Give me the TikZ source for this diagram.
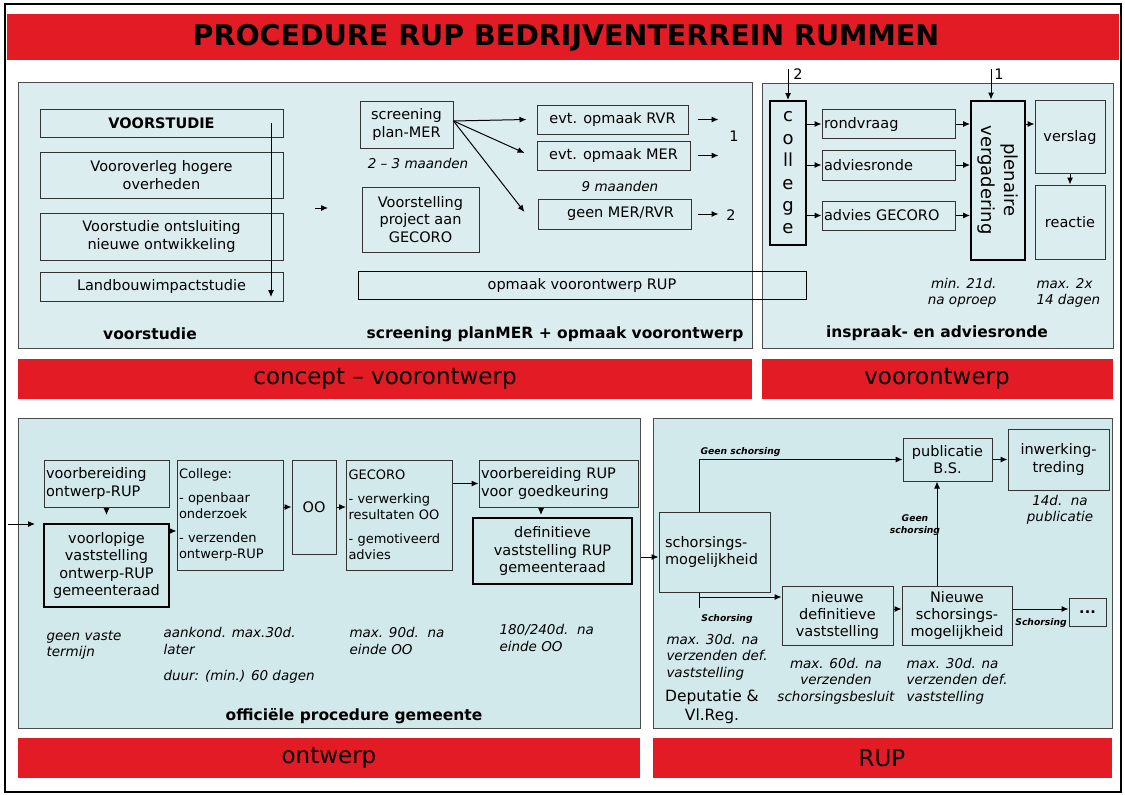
\documentclass[tikz,border=0pt]{standalone}
\usepackage{fontspec}
\setmainfont{DejaVu Sans}
\usetikzlibrary{arrows.meta}

\definecolor{paneltop}{RGB}{219,237,239}
\definecolor{panelbot}{RGB}{209,233,235}
\definecolor{barred}{RGB}{227,27,36}

\newcommand{\fbody}{\fontsize{14.5}{17.2}\selectfont}
\newcommand{\flist}{\fontsize{13}{16}\selectfont}
\newcommand{\fbig}{\fontsize{18}{22.4}\selectfont}
\newcommand{\fnote}{\fontsize{13.5}{16.3}\selectfont\itshape}
\newcommand{\fhead}{\fontsize{15.5}{18}\selectfont\bfseries}
\newcommand{\fbar}{\fontsize{23}{26}\selectfont}
\newcommand{\ftag}{\fontsize{9.2}{11.5}\selectfont\bfseries\itshape}
\newcommand{\fdep}{\fontsize{15.5}{19}\selectfont}
\newcommand{\ftitle}{\fontsize{28.5}{32}\selectfont\bfseries}

\begin{document}
\begin{tikzpicture}[x=1pt, y=-1pt, line width=1pt, >={Latex[length=7pt,width=6pt]},
	box/.style={draw=black!80, inner sep=2pt, align=center, font=\fbody},
	heavy/.style={box, draw=black, line width=2pt},
	note/.style={inner sep=0pt, align=left, font=\fnote},
	tag/.style={inner sep=0pt, align=center, font=\ftag},
	panel/.style={draw=black!70}]

	\useasboundingbox (0,0) rectangle (1125,795);
	\fill[white] (0,0) rectangle (1125,795);
	\draw[line width=2.5pt] (5,4) rectangle (1121,792);
	\fill[barred] (7,14) rectangle (1119,60);
	\node[font=\ftitle] (title) at (566,38) {PROCEDURE RUP BEDRIJVENTERREIN RUMMEN};

	\draw[panel, fill=paneltop] (18,82) rectangle (752,348);
	\draw[panel, fill=paneltop] (762,83) rectangle (1113,348);
	\fill[barred] (18,359) rectangle (752,399);
	\fill[barred] (762,359) rectangle (1113,399);
	\draw[panel, fill=panelbot] (18,418) rectangle (640,728);
	\draw[panel, fill=panelbot] (653,418) rectangle (1112,728);
	\fill[barred] (18,738) rectangle (640,778);
	\fill[barred] (653,738) rectangle (1112,778);

	\node[font=\fbar] (lconcept) at (385,379) {concept – voorontwerp};
	\node[font=\fbar] (lvoor) at (937,379) {voorontwerp};
	\node[font=\fbar] (lontw) at (329,758) {ontwerp};
	\node[font=\fbar] (lrup) at (882,758) {RUP};

	% voorstudie
	\node[box, minimum width=243pt, minimum height=28pt] (vstud) at (161.5,123) {\bfseries VOORSTUDIE};
	\node[box, minimum width=243pt, minimum height=46pt] (vover) at (161.5,175) {Vooroverleg hogere\\overheden};
	\node[box, minimum width=243pt, minimum height=47pt] (vont) at (161.5,236.5) {Voorstudie ontsluiting\\nieuwe ontwikkeling};
	\node[box, minimum width=243pt, minimum height=29pt] (lbi) at (161.5,286.5) {Landbouwimpactstudie};
	\draw[->] ([xshift=109.5pt]vstud.center) -- ([xshift=109.5pt,yshift=-10.5pt]lbi.center);
	\node[font=\fhead] (hvoor) at (150,334) {voorstudie};

	% screening planMER
	\coordinate (lead) at (315,208);
	\draw[->] (lead) -- ++(13,0);
	\node[box, minimum width=93pt, minimum height=47pt] (scr) at (406.5,124.5) {screening\\plan-MER};
	\node[note] (t23) at (418,163) {2 – 3 maanden};
	\node[box, minimum width=117pt, minimum height=65pt] (vgec) at (420.5,219.5) {Voorstelling\\project aan\\GECORO};
	\node[box, minimum width=151pt, minimum height=29pt] (rvr) at (612.5,119.5) {evt. opmaak RVR};
	\node[box, minimum width=153pt, minimum height=29pt] (mer) at (613.5,155.5) {evt. opmaak MER};
	\node[note] (t9) at (620,186) {9 maanden};
	\node[box, minimum width=153pt, minimum height=30pt] (geen) at (614.5,214) {\hspace*{12pt}geen MER/RVR};
	\draw[->] ([yshift=3.5pt]scr.east) -- ([xshift=-10pt]rvr.west);
	\draw[->] ([yshift=3.5pt]scr.east) -- ([xshift=-12pt,yshift=2.5pt]mer.west);
	\draw[->] ([yshift=3.5pt]scr.east) -- ([xshift=-13pt,yshift=2pt]geen.west);
	\draw[->] ([xshift=9pt]rvr.east) -- ++(21,0);
	\draw[->] ([xshift=7pt]mer.east) -- ++(21,0);
	\draw[->] ([xshift=6pt]geen.east) -- ++(21,0);
	\node[font=\fbody] (one) at (734,136) {1};
	\node[font=\fbody] (two) at (731,215) {2};
	\node[box, draw=black, minimum width=448pt, minimum height=28pt] (opm) at (582,285) {opmaak voorontwerp RUP};
	\node[font=\fhead] (hscr) at (555,334) {screening planMER + opmaak voorontwerp};

	% inspraak- en adviesronde
	\node[heavy, minimum width=36pt, minimum height=144pt, inner sep=0pt, font=\fbig] (coll) at (788,173) {c\\o\\ll\\e\\g\\e};
	\node[box, text width=129pt, align=left, minimum height=29pt] (rond) at (888.5,124) {rondvraag};
	\node[box, text width=129pt, align=left, minimum height=30pt] (advr) at (888.5,165) {adviesronde};
	\node[box, text width=129pt, align=left, minimum height=29pt] (advg) at (888.5,215.5) {advies GECORO};
	\node[heavy, minimum width=54pt, minimum height=159pt] (plen) at (998,180) {};
	\node[rotate=-90, font=\fbig, align=center, inner sep=0pt] (plentxt) at (plen.center) {plenaire\\vergadering};
	\node[box, minimum width=70pt, minimum height=73pt] (versl) at (1070,137) {verslag};
	\node[box, minimum width=70pt, minimum height=74pt] (react) at (1070,222) {reactie};
	\coordinate (in2) at (788,69);
	\coordinate (in1) at (991,69);
	\draw[->] (in2) -- (coll.north);
	\draw[->] (in1) -- (in1 |- plen.north);
	\node[font=\fbody] (lab2) at (798,74) {2};
	\node[font=\fbody] (lab1) at (999,74) {1};
	\draw[->] (coll.east |- rond.west) -- (rond.west);
	\draw[->] (coll.east |- advr.west) -- (advr.west);
	\draw[->] (coll.east |- advg.west) -- (advg.west);
	\draw[->] (rond.east) -- (rond.east -| plen.west);
	\draw[->] (advr.east) -- (advr.east -| plen.west);
	\draw[->] (advg.east) -- (advg.east -| plen.west);
	\draw[->] (plen.east |- rond.east) -- (versl.west |- rond.east);
	\draw[->] (versl.south) -- (react.north);
	\node[note, align=right, anchor=east] (tmin) at (997,293) {min. 21d.\\na oproep};
	\node[note, anchor=west] (tmax) at (1036,293) {max. 2x\\14 dagen};
	\node[font=\fhead] (hinsp) at (937,333) {inspraak- en adviesronde};

	% officiele procedure gemeente
	\coordinate (inl) at (8,524);
	\draw[->] (inl) -- ++(27,0);
	\node[box, text width=121pt, align=left, minimum height=47pt] (vbont) at (106.5,483.5) {voorbereiding\\ontwerp-RUP};
	\node[heavy, minimum width=125pt, minimum height=83pt] (vlop) at (106.5,565.5) {voorlopige\\vaststelling\\ontwerp-RUP\\gemeenteraad};
	\node[box, font=\flist, text width=102pt, align=left, minimum height=110pt] (coll2) at (230,515) {College:\\[8pt]- openbaar\\onderzoek\\[8pt]- verzenden\\ontwerp-RUP};
	\node[box, minimum width=44pt, minimum height=94pt] (oo) at (314,507) {OO};
	\node[box, font=\flist, text width=102pt, align=left, minimum height=110pt] (gec) at (399.5,515) {GECORO\\[8pt]- verwerking\\resultaten OO\\[8pt]- gemotiveerd\\advies};
	\node[box, text width=155pt, align=left, minimum height=47pt] (vbrup) at (558.5,483.5) {voorbereiding RUP\\voor goedkeuring};
	\node[heavy, minimum width=159pt, minimum height=66pt] (defv) at (552.5,551) {definitieve\\vaststelling RUP\\gemeenteraad};
	\draw[->, shorten >=8pt] (vbont.south) -- (vlop.north);
	\draw[->] ([yshift=-8pt]vlop.north east) -- ([yshift=-8pt]vlop.north east -| coll2.west);
	\draw[->] (coll2.east |- oo.west) -- (oo.west);
	\draw[->] (oo.east) -- (oo.east -| gec.west);
	\draw[->] (gec.east |- vbrup.west) -- (vbrup.west);
	\draw[->, shorten >=2pt] ([xshift=-17.5pt]vbrup.south) -- ([xshift=-17.5pt]vbrup.south |- defv.north);
	\node[note, anchor=west] (ngeen) at (46,645) {geen vaste\\termijn};
	\node[note, anchor=west] (naank) at (163,641) {aankond. max.30d.\\later};
	\node[note, anchor=west] (nduur) at (163,677) {duur: (min.) 60 dagen};
	\node[note, anchor=west] (n90) at (349,641) {max. 90d.\ \ na\\einde OO};
	\node[note, anchor=west] (n180) at (499,638) {180/240d.\ \ na\\einde OO};
	\node[font=\fhead] (hoff) at (354,716) {officiële procedure gemeente};

	% RUP
	\node[box, text width=99pt, inner xsep=6pt, align=left, minimum height=80pt] (schm) at (714.5,552) {schorsings-\\mogelijkheid};
	\node[box, minimum width=89pt, minimum height=43pt] (publ) at (947.5,459.5) {publicatie\\B.S.};
	\node[box, minimum width=101pt, minimum height=61pt] (inw) at (1058.5,459.5) {inwerking-\\treding};
	\node[box, minimum width=111pt, minimum height=59pt] (ndef) at (837.5,615.5) {nieuwe\\definitieve\\vaststelling};
	\node[box, minimum width=110pt, minimum height=59pt] (nsch) at (957,615.5) {Nieuwe\\schorsings-\\mogelijkheid};
	\node[box, minimum width=37pt, minimum height=28pt] (dots) at (1087.5,612) {\bfseries ...};
	\coordinate (gap) at (641,557);
	\draw[->] (gap) -- (gap -| schm.west);
	\draw[->] ([xshift=-15.5pt]schm.north) |- (publ.west);
	\node[tag, anchor=base west] (tgs1) at (700,454) {Geen schorsing};
	\coordinate (sch) at (699,597);
	\draw (schm.south -| sch) -- ++(0,15);
	\draw[->] (sch) -- (sch -| ndef.west);
	\node[tag] (ts1) at (727,619) {Schorsing};
	\draw[->] ([yshift=6.5pt]ndef.east) -- ([yshift=6.5pt]ndef.east -| nsch.west);
	\draw[->] ([xshift=-20pt]nsch.north) -- ([xshift=-20pt]nsch.north |- publ.south);
	\node[tag] (tgs2) at (915,525) {Geen\\schorsing};
	\draw[->] ([yshift=6.5pt]nsch.east) -- ([yshift=6.5pt]nsch.east -| dots.west);
	\node[tag] (ts2) at (1041,623) {Schorsing};
	\draw[->] (publ.east) -- (publ.east -| inw.west);
	\node[note, anchor=west] (n30a) at (666,657) {max. 30d. na\\verzenden def.\\vaststelling};
	\node[font=\fdep, align=center] (dep) at (712,707) {Deputatie \&\\Vl.Reg.};
	\node[note, align=center] (n60) at (836,681) {max. 60d. na\\verzenden\\schorsingsbesluit};
	\node[note, anchor=west] (n30b) at (906,681) {max. 30d. na\\verzenden def.\\vaststelling};
	\node[note, align=center] (n14) at (1060,510) {14d.\ \ na\\publicatie};
\end{tikzpicture}
\end{document}
